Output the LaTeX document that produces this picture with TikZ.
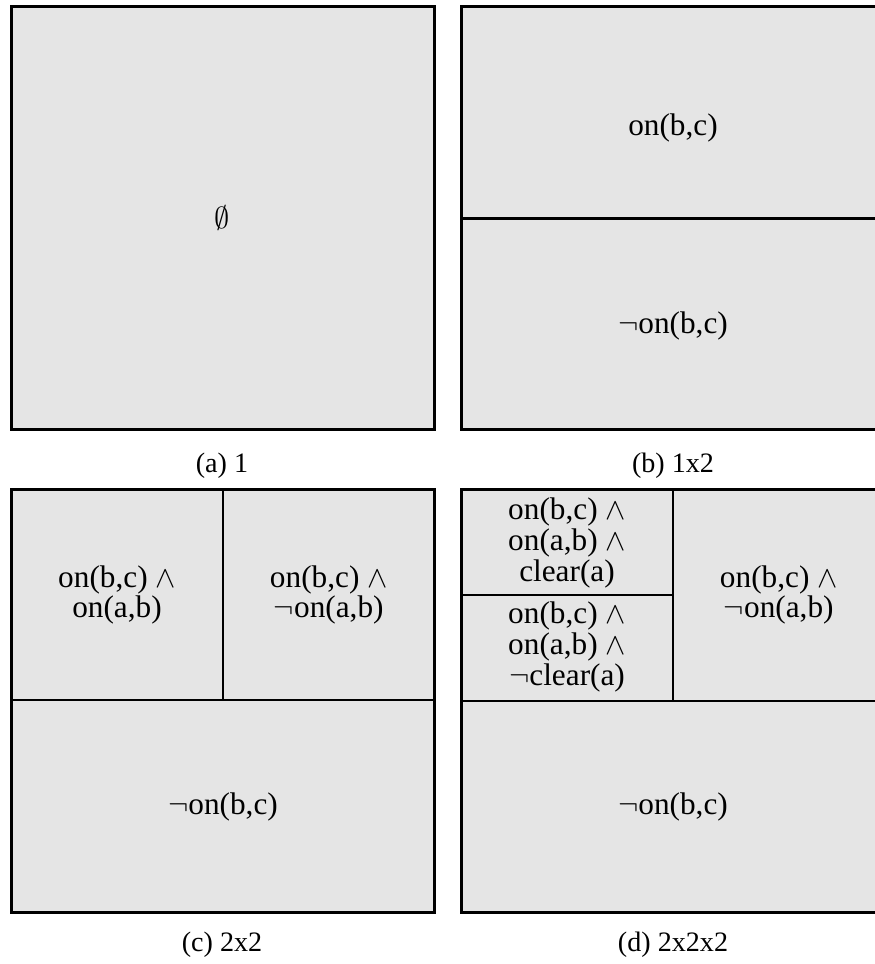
\documentclass[tikz,border=0pt]{standalone}
\usepackage{fontspec}
\setmainfont{Liberation Serif}
\usetikzlibrary{positioning}

\begin{document}
\begin{tikzpicture}[
  cell/.style={fill=gray!20,draw=black,line width=1.6pt},
  wall/.style={draw=black,line width=1.6pt},
  lbl/.style={font=\fontsize{17.8}{17.6}\selectfont,align=center,inner sep=0pt},
  subcap/.style={font=\fontsize{16}{19}\selectfont,inner sep=0pt}]
\useasboundingbox (0,0) rectangle (17.5,-19.28);
% (a) one cell
\path[cell] (0.23,-0.13) rectangle (8.69,-8.59);
\node[lbl] (empty) at (4.44,-4.36) {$\emptyset$};
\node[subcap] (capa) at (4.44,-9.32) {(a) 1};
% (b) split on on(b,c)
\path[cell] (9.23,-0.13) rectangle (17.69,-8.59);
\draw[wall] (9.23,-4.37) -- (17.69,-4.37);
\node[lbl] (b1) at (13.46,-2.56) {on(b,c)};
\node[lbl] (b2) at (13.46,-6.52) {$\neg$on(b,c)};
\node[subcap] (capb) at (13.46,-9.32) {(b) 1x2};
% (c) split again on on(a,b)
\path[cell] (0.23,-9.79) rectangle (8.69,-18.25);
\draw[wall] (0.23,-14.0) -- (8.69,-14.0);
\draw[wall] (4.46,-9.79) -- (4.46,-14.0);
\node[lbl] (c1) at (2.34,-11.9) {on(b,c) $\wedge$\\on(a,b)};
\node[lbl] (c2) at (6.575,-11.9) {on(b,c) $\wedge$\\$\neg$on(a,b)};
\node[lbl] (c3) at (4.46,-16.13) {$\neg$on(b,c)};
\node[subcap] (capc) at (4.44,-18.9) {(c) 2x2};
% (d) top left cell split on clear(a)
\path[cell] (9.23,-9.79) rectangle (17.69,-18.25);
\draw[wall] (9.23,-14.02) -- (17.69,-14.02);
\draw[wall] (13.46,-9.79) -- (13.46,-14.02);
\draw[wall] (9.23,-11.9) -- (13.46,-11.9);
\node[lbl] (d1) at (11.34,-10.86) {on(b,c) $\wedge$\\on(a,b) $\wedge$\\clear(a)};
\node[lbl] (d2) at (11.34,-12.94) {on(b,c) $\wedge$\\on(a,b) $\wedge$\\$\neg$clear(a)};
\node[lbl] (d3) at (15.575,-11.9) {on(b,c) $\wedge$\\$\neg$on(a,b)};
\node[lbl] (d4) at (13.46,-16.13) {$\neg$on(b,c)};
\node[subcap] (capd) at (13.46,-18.9) {(d) 2x2x2};
\end{tikzpicture}
\end{document}
